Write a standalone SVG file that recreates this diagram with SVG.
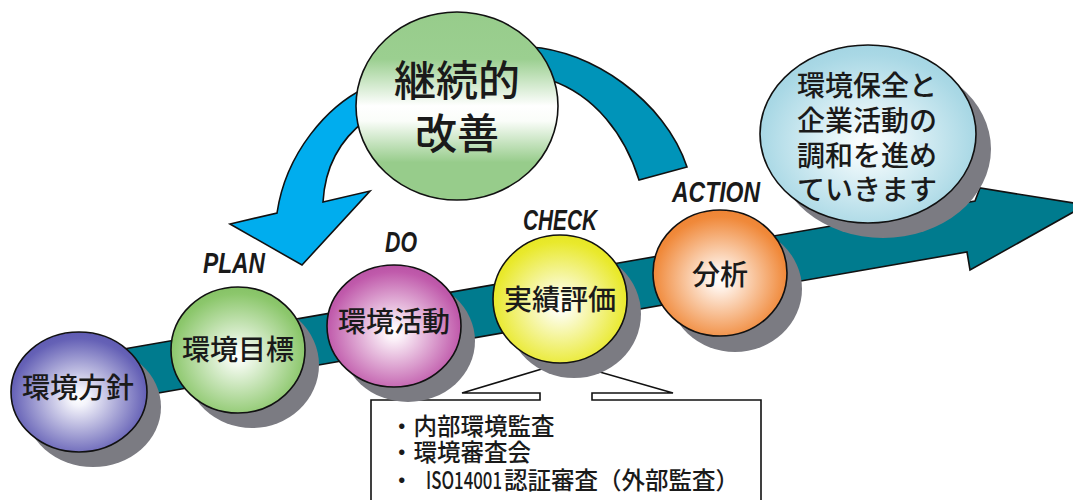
<svg xmlns="http://www.w3.org/2000/svg" width="1073" height="500" viewBox="0 0 1073 500">
<defs>
<style>
.ol{stroke:#111;stroke-width:1.6;stroke-linejoin:miter}
.sh{fill:#7b7b82}
.jp{font-family:"Noto Sans CJK JP","Noto Sans",sans-serif;font-weight:500;fill:#1a1a1a;text-anchor:middle}
.t28{font-size:28px}
.t42{font-size:42px}
.t24{font-size:23.5px;text-anchor:start}
.lb{font-family:"Liberation Sans",Arial,sans-serif;font-style:italic;font-weight:bold;font-size:29px;fill:#1a1a1a}
</style>
<radialGradient id="gPur" cx="0.5" cy="0.55" r="0.55"><stop offset="0" stop-color="#fff"/><stop offset="0.12" stop-color="#f4f4fb"/><stop offset="0.9" stop-color="#6561b6"/><stop offset="1" stop-color="#5f5bb2"/></radialGradient>
<radialGradient id="gGrn" cx="0.5" cy="0.55" r="0.55"><stop offset="0" stop-color="#fff"/><stop offset="0.12" stop-color="#f3faef"/><stop offset="0.9" stop-color="#8cc76c"/><stop offset="1" stop-color="#86c266"/></radialGradient>
<radialGradient id="gMag" cx="0.5" cy="0.55" r="0.55"><stop offset="0" stop-color="#fff"/><stop offset="0.12" stop-color="#fbf0f8"/><stop offset="0.9" stop-color="#c05aab"/><stop offset="1" stop-color="#b954a5"/></radialGradient>
<radialGradient id="gYel" cx="0.5" cy="0.55" r="0.55"><stop offset="0" stop-color="#fff"/><stop offset="0.12" stop-color="#fdfdec"/><stop offset="0.9" stop-color="#e9e92c"/><stop offset="1" stop-color="#e6e624"/></radialGradient>
<radialGradient id="gOra" cx="0.5" cy="0.55" r="0.55"><stop offset="0" stop-color="#fff"/><stop offset="0.12" stop-color="#fff4ec"/><stop offset="0.9" stop-color="#f0893a"/><stop offset="1" stop-color="#ee8434"/></radialGradient>
<radialGradient id="gBlu" cx="0.5" cy="0.55" r="0.55"><stop offset="0" stop-color="#fff"/><stop offset="0.15" stop-color="#f2fafc"/><stop offset="0.9" stop-color="#a9d8e5"/><stop offset="1" stop-color="#a4d5e3"/></radialGradient>
<linearGradient id="gBig" x1="0" y1="0" x2="0" y2="1"><stop offset="0" stop-color="#97cc8b"/><stop offset="0.25" stop-color="#9bcf90"/><stop offset="0.5" stop-color="#fff"/><stop offset="0.58" stop-color="#fafdf9"/><stop offset="0.8" stop-color="#97cc8b"/><stop offset="1" stop-color="#97cc8b"/></linearGradient>
</defs>

<g id="connectors">
<path id="main-arrow" class="ol" fill="#007b8e" d="M118,350 L975,201 L980,188 L1086,205 L970,270 L967,252 L118,400 Z"/>
<path id="arrow-to-plan" class="ol" fill="#00adee" d="M365,88 C328,106 286,152 277,213 L230,224 L302,265 L370,191 L323,202 Q326,150 366,120 Z"/>
<path id="arrow-from-action" class="ol" fill="#0094b9" d="M530,47 C590,50 665,100 687,167 L639,180 C625,135 595,95 550,80 Z"/>
</g>

<g id="kaizen">
<ellipse class="ol" cx="457" cy="106" rx="101" ry="94" fill="url(#gBig)"/>
<text class="jp t42" x="457" y="96">継続的</text>
<text class="jp t42" x="457" y="149">改善</text>
</g>

<g id="callout">
<path class="ol" fill="#fff" d="M371,503 V400 H540 V393 H462 L565,362 L673,393 H592 V400 H761 V503 Z"/>
<text class="jp t24" x="390" y="435">・内部環境監査</text>
<text class="jp t24" x="390" y="461">・環境審査会</text>
<text class="jp t24" x="390" y="489">・</text>
<text class="jp t24" x="426" y="489" textLength="76" lengthAdjust="spacingAndGlyphs">ISO14001</text>
<text class="jp t24" x="504" y="489">認証審査（外部監査）</text>
</g>

<g id="goal">
<ellipse class="sh" cx="883" cy="149" rx="108" ry="89"/>
<ellipse class="ol" cx="868" cy="134" rx="108" ry="89" fill="url(#gBlu)"/>
<text class="jp t28" x="867" y="96">環境保全と</text>
<text class="jp t28" x="867" y="131">企業活動の</text>
<text class="jp t28" x="867" y="166">調和を進め</text>
<text class="jp t28" x="867" y="200">ていきます</text>
</g>

<g id="policy">
<ellipse class="sh" cx="93" cy="407" rx="68" ry="60"/>
<ellipse class="ol" cx="79" cy="392" rx="68" ry="60" fill="url(#gPur)"/>
<text class="jp t28" x="78" y="398">環境方針</text>
</g>

<g id="plan">
<ellipse class="sh" cx="252" cy="365" rx="67" ry="63"/>
<ellipse class="ol" cx="238" cy="350" rx="67" ry="63" fill="url(#gGrn)"/>
<text class="jp t28" x="238" y="360">環境目標</text>
<text class="lb" x="203" y="273" textLength="62" lengthAdjust="spacingAndGlyphs">PLAN</text>
</g>

<g id="do">
<ellipse class="sh" cx="408" cy="341" rx="67" ry="61"/>
<ellipse class="ol" cx="394" cy="326" rx="67" ry="61" fill="url(#gMag)"/>
<text class="jp t28" x="394" y="332">環境活動</text>
<text class="lb" x="385" y="252" textLength="32" lengthAdjust="spacingAndGlyphs">DO</text>
</g>

<g id="check">
<ellipse class="sh" cx="574" cy="314" rx="67" ry="64"/>
<ellipse class="ol" cx="560" cy="299" rx="67" ry="64" fill="url(#gYel)"/>
<text class="jp t28" x="560" y="310">実績評価</text>
<text class="lb" x="523" y="230" textLength="74" lengthAdjust="spacingAndGlyphs">CHECK</text>
</g>

<g id="action">
<ellipse class="sh" cx="735" cy="289" rx="67" ry="63"/>
<ellipse class="ol" cx="720" cy="273" rx="67" ry="63" fill="url(#gOra)"/>
<text class="jp t28" x="720" y="285">分析</text>
<text class="lb" x="672" y="202" textLength="88" lengthAdjust="spacingAndGlyphs">ACTION</text>
</g>
</svg>
